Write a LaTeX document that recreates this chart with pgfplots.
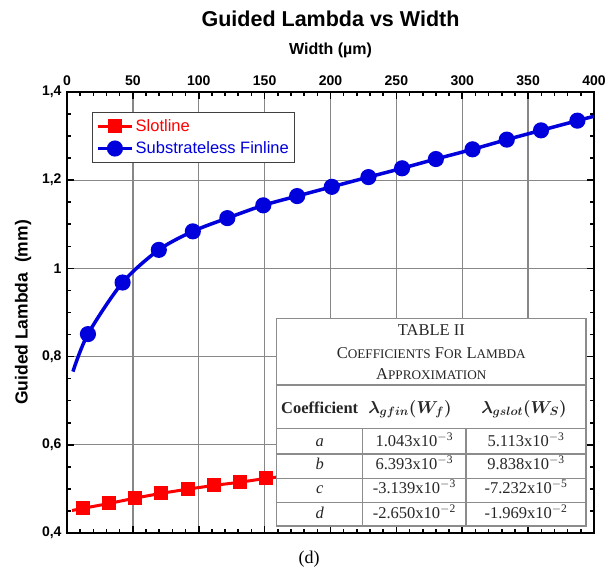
\documentclass[border=0pt]{standalone}
\usepackage{fontspec}
\usepackage{amsmath}
\usepackage{pgfplots}
\pgfplotsset{compat=1.18}
\setmainfont{Liberation Serif}
\newfontfamily\arial{Liberation Sans}
\definecolor{slotred}{RGB}{255,0,0}
\definecolor{finblue}{RGB}{0,0,220}
\definecolor{gridgray}{RGB}{135,135,135}
\definecolor{tabgray}{RGB}{140,140,140}
% fake small caps for the table caption
\newcommand{\fsc}[2]{#1{\fontsize{13.2}{15}\selectfont #2}}

\begin{document}
\begin{tikzpicture}
\path[use as bounding box] (-67pt,-36pt) rectangle (549pt,533pt);
\begin{axis}[
    scale only axis,
    width=527pt, height=441pt,
    at={(0,0)}, anchor=south west,
    xmin=0, xmax=400, ymin=0.4, ymax=1.4,
    xtick={0,50,...,400},
    minor x tick num=4,
    ytick={0.4,0.6,0.8,1,1.2,1.4},
    yticklabels={{0,4},{0,6},{0,8},{1},{1,2},{1,4}},
    minor y tick num=3,
    xticklabel pos=upper,
    tick align=inside,
    major tick length=7pt, minor tick length=4pt,
    tick style={black, line width=1.6pt},
    axis line style={black, line width=2.4pt},
    grid=major,
    major grid style={gridgray, line width=1.3pt},
    ticklabel style={font=\arial\bfseries\fontsize{14}{16}\selectfont},
    xticklabel style={yshift=3pt},
    yticklabel style={xshift=-2pt},
    /pgf/number format/assume math mode=true,
    xlabel={Width (µm)},
    xlabel style={font=\arial\bfseries\fontsize{16}{18}\selectfont,
        at={(axis description cs:0.5,1.0952)}, anchor=center},
    ylabel={Guided Lambda\ \ (mm)},
    ylabel style={font=\arial\bfseries\fontsize{17.5}{19}\selectfont,
        at={(axis description cs:-0.0835,0.5)}, anchor=center},
    legend style={
        at={(axis description cs:0.0469,0.955)}, anchor=north west,
        draw=black!75, line width=1pt,
        font=\arial\fontsize{16.5}{18}\selectfont,
        inner xsep=4pt, inner ysep=5pt, row sep=5pt,
    },
    legend cell align=left,
    legend image code/.code={
        \draw[#1, mark=none] (0pt,0pt) -- (34pt,0pt);
        \draw[#1, mark indices={1}] plot coordinates {(17pt,0pt)};
    },
]

% Slotline
\addplot[color=slotred, line width=3pt, mark=square*, mark size=5.5pt,
    mark indices={2,...,9}, mark options={solid}] coordinates {
    (3.8,0.451) (12.4,0.456) (32,0.467) (51.5,0.479) (71.5,0.490)
    (91.9,0.4995) (111.6,0.508) (131,0.515) (151.3,0.524) (172,0.531)
};
\addlegendentry{\textcolor{slotred}{Slotline}}

% Substrateless Finline
\addplot[color=finblue, line width=3.5pt, smooth, mark=*, mark size=6.3pt,
    mark indices={2,...,16}, mark options={solid}] coordinates {
    (4.5,0.766) (15.9,0.851) (42.2,0.968) (69.7,1.042) (95.5,1.084)
    (121.7,1.114) (149,1.143) (174.7,1.164) (201,1.185) (228.8,1.207)
    (254.3,1.227) (280,1.248) (307.8,1.270) (333.8,1.292) (359.8,1.313)
    (387.4,1.335) (400,1.345)
};
\addlegendentry{\textcolor{finblue}{Substrateless Finline}}

\end{axis}

% title
\node[font=\arial\bfseries\fontsize{21.5}{24}\selectfont] at (263.5pt,514pt) {Guided Lambda vs Width};

% coefficient table laid over the plot
\fill[white] (209.7pt,7pt) rectangle (519pt,214.7pt);
\draw[tabgray, line width=1.1pt] (209.7pt,148pt) -- (519pt,148pt);
\draw[tabgray, line width=1.1pt] (209.7pt,104.7pt) -- (519pt,104.7pt);
\draw[tabgray, line width=1.1pt] (209.7pt,79pt) -- (519pt,79pt);
\draw[tabgray, line width=1.1pt] (209.7pt,54.7pt) -- (519pt,54.7pt);
\draw[tabgray, line width=1.1pt] (209.7pt,30.3pt) -- (519pt,30.3pt);
\draw[tabgray, line width=1.1pt] (295.7pt,7pt) -- (295.7pt,104.7pt);
\draw[tabgray, line width=1.1pt] (399pt,7pt) -- (399pt,104.7pt);
\draw[tabgray, line width=1.4pt] (209.7pt,7pt) rectangle (519pt,214.7pt);

\begin{scope}[every node/.style={anchor=base, inner sep=0pt, text=black!85,
    font=\fontsize{16.5}{19}\selectfont}]
\node at (364.3pt,197pt) {TABLE II};
\node at (364.3pt,174.7pt) {\fsc{C}{OEFFICIENTS} \fsc{F}{OR} \fsc{L}{AMBDA}};
\node at (364.3pt,153.7pt) {\fsc{A}{PPROXIMATION}};
\node at (252.7pt,119.7pt) {\textbf{Coefficient}};
\node at (343pt,119.7pt) {$\boldsymbol{\lambda_{gfin}(W_f)}$};
\node at (457pt,119.7pt) {$\boldsymbol{\lambda_{gslot}(W_S)}$};
\node at (252.7pt,86.3pt) {\textit{a}};
\node at (252.7pt,63pt) {\textit{b}};
\node at (252.7pt,39pt) {\textit{c}};
\node at (252.7pt,14.7pt) {\textit{d}};
\node at (347.3pt,86.3pt) {1.043x10\textsuperscript{$-$3}};
\node at (347.3pt,63pt) {6.393x10\textsuperscript{$-$3}};
\node at (347.3pt,39pt) {-3.139x10\textsuperscript{$-$3}};
\node at (347.3pt,14.7pt) {-2.650x10\textsuperscript{$-$2}};
\node at (459pt,86.3pt) {5.113x10\textsuperscript{$-$3}};
\node at (459pt,63pt) {9.838x10\textsuperscript{$-$3}};
\node at (459pt,39pt) {-7.232x10\textsuperscript{$-$5}};
\node at (459pt,14.7pt) {-1.969x10\textsuperscript{$-$2}};
\end{scope}

% panel label
\node[anchor=base, font=\fontsize{18}{20}\selectfont] at (242pt,-31pt) {(d)};
\end{tikzpicture}
\end{document}
